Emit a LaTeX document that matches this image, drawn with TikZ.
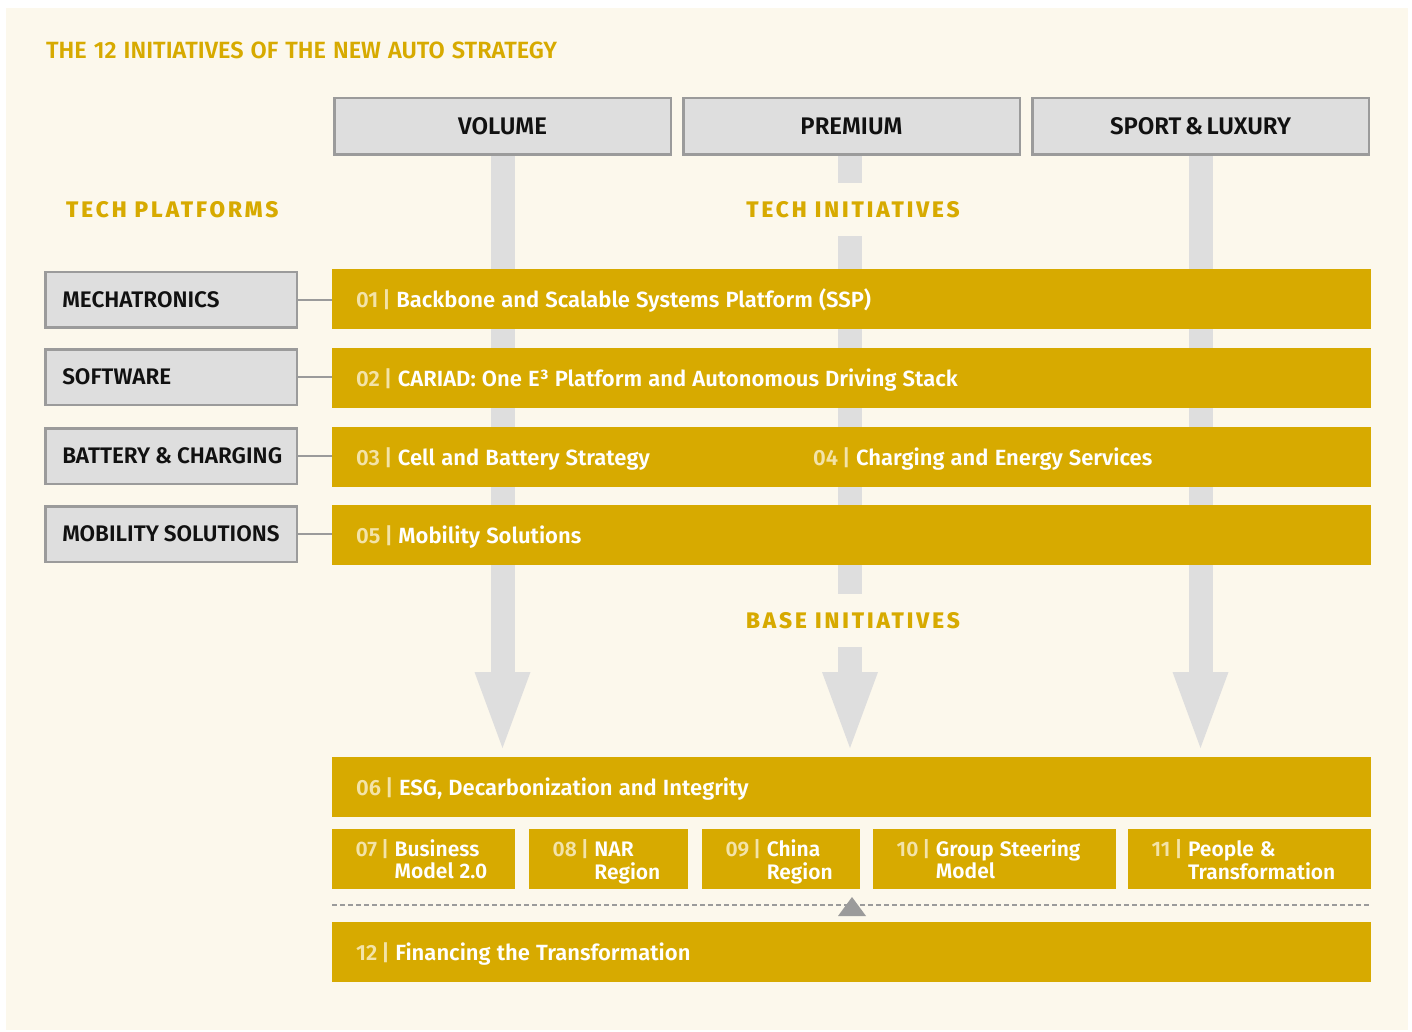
\documentclass[tikz,border=0pt]{standalone}
\usepackage{fontspec}
\setmainfont{Fira Sans}
\newfontfamily\fsb{Fira Sans SemiBold}
\newfontfamily\fsbn{Fira Sans SemiBold}[WordSpace=0.6]
\newfontfamily\fxb{Fira Sans ExtraBold}[LetterSpace=13]
\usetikzlibrary{calc,backgrounds}
\definecolor{cream}{HTML}{FCF8EC}
\definecolor{gold}{HTML}{D7AA00}
\definecolor{boxfill}{HTML}{DEDEDE}
\definecolor{boxline}{HTML}{9B9B9B}
\definecolor{gbarc}{HTML}{DEDEDE}
\definecolor{numc}{HTML}{F3E3A8}
\definecolor{boxtext}{HTML}{111111}
\newcommand\nm[1]{{\color{numc}#1\kern4pt|\kern5.5pt}\ignorespaces}
\newcommand\bsp{\spaceskip=.28em\relax}
\tikzset{
  colhead/.style={draw=boxline, line width=2.5pt, fill=boxfill, minimum width=336.5pt, minimum height=56.5pt, inner sep=0pt, font=\fsbn\fontsize{24}{26}\selectfont, text=boxtext},
  platbox/.style={draw=boxline, line width=2.5pt, fill=boxfill, minimum height=55.5pt, text width=218pt, inner xsep=16.75pt, inner ysep=0pt, align=left, anchor=west, font=\fsb\fontsize{22.5}{24}\selectfont, text=boxtext},
  ybar/.style={fill=gold, minimum height=60pt, text width=991pt, inner xsep=24pt, inner ysep=0pt, align=left, anchor=west, text=white, font=\fsb\fontsize{22}{23}\selectfont, text height=17.4pt, text depth=0pt},
  sbox/.style={fill=gold, minimum height=60pt, inner xsep=23.5pt, inner ysep=0pt, align=left, anchor=west, text=white, font=\fsb\fontsize{21}{22}\selectfont, text height=8pt, text depth=14pt},
  plaintxt/.style={inner sep=0pt, text=white, font=\fsb\fontsize{22}{23}\selectfont, text height=17.4pt, text depth=0pt},
  sect/.style={text=gold, font=\fxb\fontsize{22.5}{24}\selectfont, inner sep=0pt},
  conn/.style={draw=boxline, line width=2pt},
  gbar/.style={draw=gbarc, line width=24pt},
  dashl/.style={draw=boxline, line width=2pt, dash pattern=on 5pt off 3pt},
}
\newcommand\twoline[3]{\bsp\begin{tabular}[t]{@{}l@{}l@{}}\nm{#1}&#2\\&#3\end{tabular}}
\begin{document}
\begin{tikzpicture}[x=1pt,y=-1pt]
\useasboundingbox (0,0) rectangle (1412,1032);
\begin{scope}[on background layer]
  \fill[white] (0,0) rectangle (1412,1032);
  \fill[cream] (6,8) rectangle (1408,1030);
\end{scope}

% title
\node[anchor=west, inner sep=0pt, text=gold, font=\fsb\fontsize{23.5}{26}\selectfont] (title) at (46,50) {\spaceskip=.3em\relax THE 12 INITIATIVES OF THE NEW AUTO STRATEGY};

% column headers
\node[colhead] (vol) at (502.5,126.5) {VOLUME};
\node[colhead] (pre) at (851.5,126.5) {PREMIUM};
\node[colhead] (spo) at (1200.5,126.5) {SPORT \& LUXURY};

% section labels
\node[sect, anchor=west] (tp) at (66,209.5) {TECH PLATFORMS};
\node[sect, minimum height=53pt] (ti) at (853,209.5) {TECH INITIATIVES};
\node[sect, minimum height=53pt] (bi) at (853,620.5) {BASE INITIATIVES};

% grey arrows (behind)
\coordinate (pc) at (850,0);
\coordinate (va) at (502.5,672);
\coordinate (pa) at (850,672);
\coordinate (sa) at (1200.5,672);
\begin{scope}[on background layer]
  \draw[gbar] (vol.south) -- ($(va)+(0,1)$);
  \draw[gbar] (spo.south) -- ($(sa)+(0,1)$);
  \draw[gbar] (pre.south -| pc) -- (ti.north -| pc);
  \draw[gbar] (ti.south -| pc) -- (bi.north -| pc);
  \draw[gbar] (bi.south -| pc) -- ($(pa)+(0,1)$);
  \foreach \c in {va,pa,sa}{
    \fill[gbarc] ($(\c)+(-28,0)$) -- ($(\c)+(28,0)$) -- ($(\c)+(0,76)$) -- cycle;
  }
\end{scope}

% tech platforms
\node[platbox] (p1) at (44.25,299.5) {\spaceskip=.22em\relax\mbox{MECHATRONICS}};
\node[platbox] (p2) at (44.25,377) {\spaceskip=.22em\relax\mbox{SOFTWARE}};
\node[platbox] (p3) at (44.25,456) {\spaceskip=.22em\relax\mbox{BATTERY \& CHARGING}};
\node[platbox] (p4) at (44.25,534) {\spaceskip=.22em\relax\mbox{MOBILITY SOLUTIONS}};

% tech initiatives bars
\node[ybar] (b1) at (332,299) {\bsp\nm{01} Backbone and Scalable Systems Platform (SSP)};
\node[ybar] (b2) at (332,378) {\bsp\nm{02} CARIAD: One E³ Platform and Autonomous Driving Stack};
\node[ybar] (b3) at (332,457) {\bsp\nm{03} Cell and Battery Strategy};
\node[plaintxt, anchor=west] (b4) at (813,457) {\bsp\nm{04} Charging and Energy Services};
\node[ybar] (b5) at (332,535) {\bsp\nm{05} Mobility Solutions};

\draw[conn] (p1.east) -- (p1.east -| b1.west);
\draw[conn] (p2.east) -- (p2.east -| b2.west);
\draw[conn] (p3.east) -- (p3.east -| b3.west);
\draw[conn] (p4.east) -- (p4.east -| b5.west);

% base initiatives
\node[ybar] (b6) at (332,786.5) {\bsp\nm{06} ESG, Decarbonization and Integrity};
\node[sbox, text width=136pt] (b7) at (332,859) {\twoline{07}{Business}{Model 2.0}};
\node[sbox, text width=112pt] (b8) at (529,859) {\twoline{08}{NAR}{Region}};
\node[sbox, text width=111pt] (b9) at (702,859) {\twoline{09}{China}{Region}};
\node[sbox, text width=196pt] (b10) at (873,859) {\twoline{10}{Group Steering}{Model}};
\node[sbox, text width=196pt] (b11) at (1128,859) {\twoline{11}{People \&}{Transformation}};

\coordinate (dl) at (332,905);
\coordinate (dr) at (1371,905);
\draw[dashl] (dl) -- (dr);
\fill[boxline] (852,897) -- (866,916) -- (838,916) -- cycle;

\node[ybar] (b12) at (332,952) {\bsp\nm{12} Financing the Transformation};
\end{tikzpicture}
\end{document}
